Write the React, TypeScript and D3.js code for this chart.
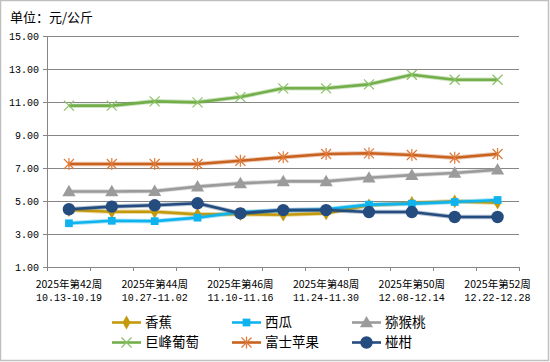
import { FC, useEffect, useRef } from "react"
import * as d3 from 'd3';

const WEEKS = ['2025年第42周', '2025年第43周', '2025年第44周', '2025年第45周', '2025年第46周', '2025年第47周',
    '2025年第48周', '2025年第49周', '2025年第50周', '2025年第51周', '2025年第52周']
const DATES = ['10.13-10.19', '10.20-10.26', '10.27-11.02', '11.03-11.09', '11.10-11.16', '11.17-11.23',
    '11.24-11.30', '12.01-12.07', '12.08-12.14', '12.15-12.21', '12.22-12.28']
const Y_TICKS = [1, 3, 5, 7, 9, 11, 13, 15]

const banana = [4.45, 4.35, 4.35, 4.19, 4.2, 4.17, 4.25, 4.74, 4.88, 4.98, 4.9]
const watermelon = [3.65, 3.8, 3.78, 3.99, 4.33, 4.42, 4.5, 4.78, 4.84, 4.94, 5.06]
const kiwi = [5.58, 5.58, 5.6, 5.87, 6.07, 6.19, 6.19, 6.41, 6.57, 6.7, 6.9]
const grape = [10.78, 10.78, 11.04, 10.98, 11.3, 11.83, 11.83, 12.07, 12.65, 12.35, 12.35]
const apple = [7.24, 7.24, 7.24, 7.24, 7.44, 7.65, 7.85, 7.89, 7.79, 7.62, 7.85]
const ponkan = [4.5, 4.66, 4.74, 4.86, 4.25, 4.45, 4.45, 4.33, 4.33, 4.03, 4.03]

type Marker = 'diamond' | 'square' | 'triangle' | 'x' | 'star' | 'circle'
const SERIES: Array<{ name: string, values: number[], color: string, marker: Marker }> = [
    { name: '香蕉', values: banana, color: '#C49A0C', marker: 'diamond' },
    { name: '西瓜', values: watermelon, color: '#0FB4EE', marker: 'square' },
    { name: '猕猴桃', values: kiwi, color: '#9B9B9B', marker: 'triangle' },
    { name: '巨峰葡萄', values: grape, color: '#72AE4A', marker: 'x' },
    { name: '富士苹果', values: apple, color: '#C9621F', marker: 'star' },
    { name: '椪柑', values: ponkan, color: '#244C7E', marker: 'circle' },
]

const CJK = '"Noto Sans CJK SC", sans-serif'
const MONO = '"Liberation Mono", monospace'

// draws one marker centred on (x, y)
const drawMarker = (g: any, kind: Marker, x: number, y: number, color: string) => {
    if (kind === 'diamond') {
        g.append('path').attr('d', d3.symbol(d3.symbolDiamond, 55)())
            .attr('transform', `translate(${x},${y})`).attr('fill', color)
    } else if (kind === 'square') {
        g.append('path').attr('d', d3.symbol(d3.symbolSquare, 60)())
            .attr('transform', `translate(${x},${y})`).attr('fill', color)
    } else if (kind === 'triangle') {
        g.append('path').attr('d', d3.symbol(d3.symbolTriangle, 75)())
            .attr('transform', `translate(${x},${y + 1})`).attr('fill', color)
    } else if (kind === 'circle') {
        g.append('circle').attr('cx', x).attr('cy', y).attr('r', 6.2).attr('fill', color)
    } else if (kind === 'x') {
        const s = 5
        g.append('path').attr('d', `M${x - s},${y - s}L${x + s},${y + s}M${x - s},${y + s}L${x + s},${y - s}`)
            .attr('stroke', '#8CC168').attr('stroke-width', 1.2)
    } else {
        const s = 5
        g.append('path').attr('d', `M${x - s},${y - s}L${x + s},${y + s}M${x - s},${y + s}L${x + s},${y - s}M${x},${y - 6}L${x},${y + 6}`)
            .attr('stroke', '#E07A3A').attr('stroke-width', 1.2)
    }
}

const PriceChart: FC = () => {
    const svgRef = useRef<SVGSVGElement>(null);

    useEffect(() => {
        const width = 550
        const height = 362
        const svg = d3.select(svgRef.current)
            .attr("width", width)
            .attr("height", height)
            .style('background', '#fff')
        svg.selectAll("*").remove();

        const xScale = d3.scaleBand<string>()
            .domain(WEEKS)
            .range([47.5, 519])
        const yScale = d3.scaleLinear()
            .domain([1, 15])
            .range([267, 36])
        const cx = (i: number) => (xScale(WEEKS[i]) ?? 0) + xScale.bandwidth() / 2

        // outer frame
        svg.append('rect').attr('x', 0.5).attr('y', 0.5).attr('width', 548).attr('height', 360)
            .attr('fill', 'none').attr('stroke', '#BFBFBF').attr('stroke-width', 1.5)

        svg.append('text').attr('x', 10).attr('y', 22)
            .style('font-family', CJK).style('font-size', '13px').attr('fill', '#000')
            .text('单位：元/公斤')

        // grid + y labels
        const grid = svg.append('g')
        Y_TICKS.forEach(t => {
            const y = Math.round(yScale(t)) + 0.5
            grid.append('line').attr('x1', 43).attr('x2', 519).attr('y1', y).attr('y2', y)
                .attr('stroke', '#868686').attr('stroke-width', 1)
            grid.append('text').attr('x', 39).attr('y', y).attr('dy', '0.35em')
                .attr('text-anchor', 'end').style('font-family', MONO).style('font-size', '10px')
                .text(t.toFixed(2))
        })
        svg.append('line').attr('x1', 47.5).attr('x2', 47.5).attr('y1', yScale(15)).attr('y2', yScale(1))
            .attr('stroke', '#868686')

        // x ticks and labels
        const xAxis = svg.append('g')
        const bounds = [...WEEKS.map(w => xScale(w) ?? 0), xScale.range()[1]]
        bounds.forEach(b => {
            const x = Math.round(b) + 0.5
            xAxis.append('line').attr('x1', x).attr('x2', x).attr('y1', 267).attr('y2', 271)
                .attr('stroke', '#868686')
        })
        WEEKS.forEach((w, i) => {
            if (i % 2 !== 0) return
            xAxis.append('text').attr('x', cx(i)).attr('y', 284).attr('dy', '0.35em')
                .attr('text-anchor', 'middle').style('font-family', CJK).style('font-size', '10.5px')
                .text(w)
            xAxis.append('text').attr('x', cx(i)).attr('y', 297).attr('dy', '0.35em')
                .attr('text-anchor', 'middle').style('font-family', MONO).style('font-size', '10px')
                .text(DATES[i])
        })

        // series
        const line = d3.line<number>()
            .x((_, i) => cx(i))
            .y(d => yScale(d))
        SERIES.forEach(s => {
            const g = svg.append('g')
            g.append('path').attr('d', line(s.values)).attr('fill', 'none')
                .attr('stroke', s.color).attr('stroke-opacity', 0.35).attr('stroke-width', 4.5)
            g.append('path').attr('d', line(s.values)).attr('fill', 'none')
                .attr('stroke', s.color).attr('stroke-width', 2.6).attr('stroke-linejoin', 'round')
            s.values.forEach((v, i) => drawMarker(g, s.marker, cx(i), yScale(v), s.color))
        })

        // legend
        const legend = svg.append('g')
        const cols = [112, 232, 352]
        const rows = [322.5, 342.5]
        SERIES.forEach((s, i) => {
            const x0 = cols[i % 3]
            const y = rows[Math.floor(i / 3)]
            legend.append('line').attr('x1', x0).attr('x2', x0 + 29).attr('y1', y).attr('y2', y)
                .attr('stroke', s.color).attr('stroke-width', 2.6)
            drawMarker(legend, s.marker, x0 + 14.5, y, s.color)
            legend.append('text').attr('x', x0 + 33).attr('y', y).attr('dy', '0.36em')
                .style('font-family', CJK).style('font-size', '13.5px').text(s.name)
        })
    }, [])

    return (
        <svg ref={svgRef} style={{ position: 'absolute', left: 0, top: 0 }}></svg>
    )
}

export default function App() {
    return <PriceChart />
}
